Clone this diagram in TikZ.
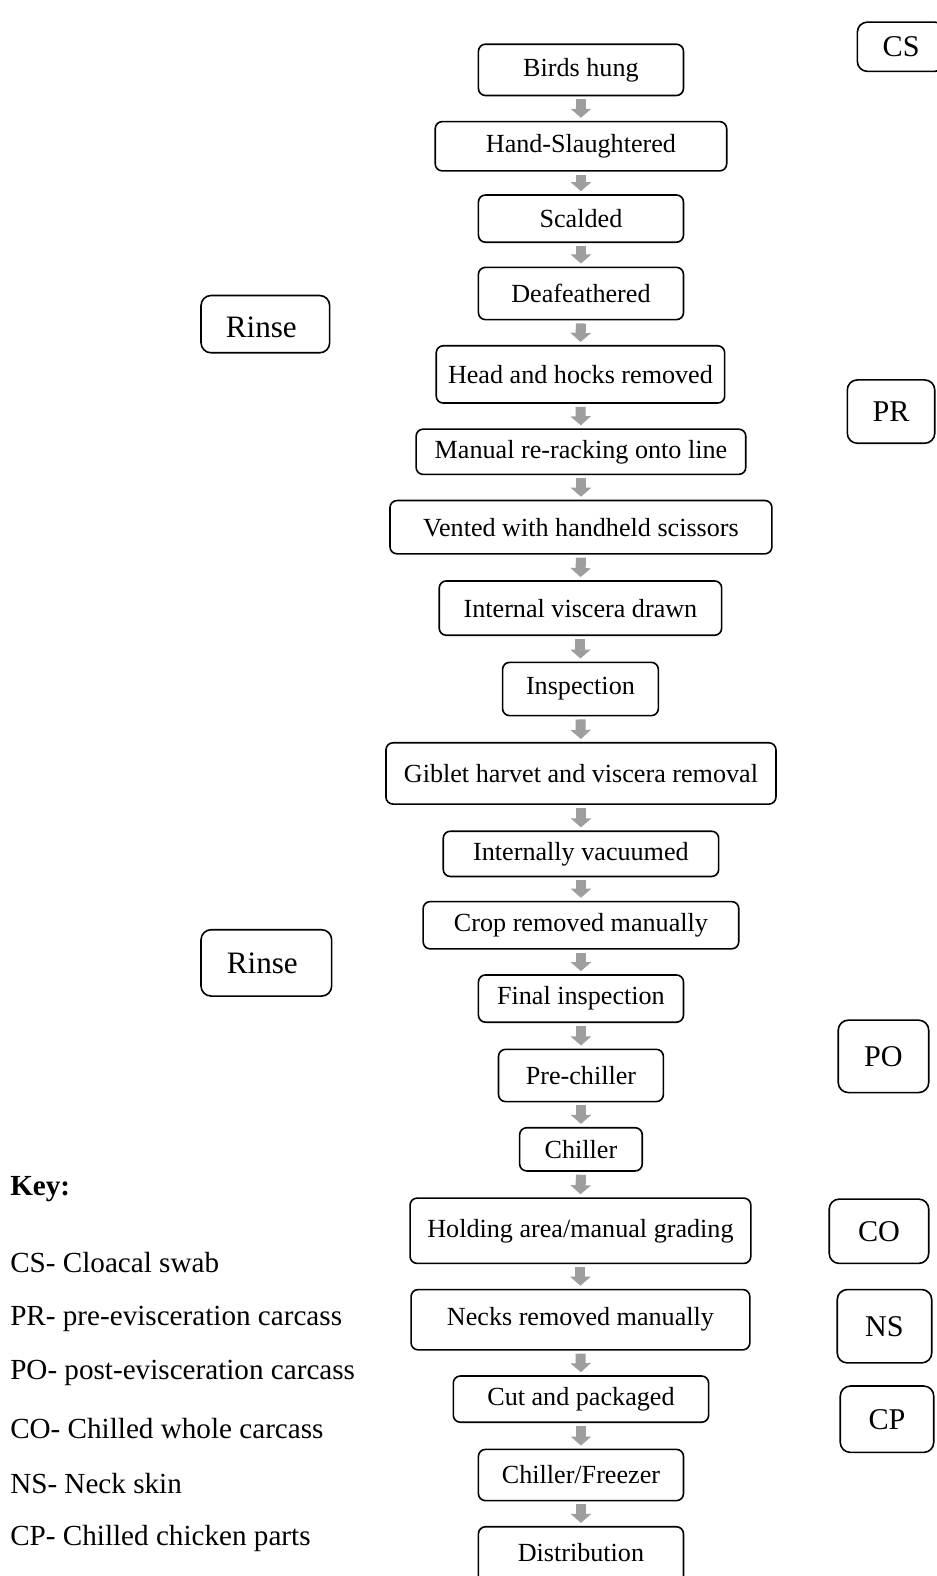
\documentclass[tikz,border=0pt]{standalone}
\usepackage{fontspec}
\setmainfont{Liberation Serif}
\usetikzlibrary{arrows.meta}
\definecolor{arrgray}{RGB}{158,158,158}
\begin{document}
\begin{tikzpicture}[x=1pt,y=-1pt,
  box/.style={draw=black,line width=1.6pt,rounded corners=7pt,inner sep=0pt,font=\fontsize{26}{30}\selectfont},
  side/.style={draw=black,line width=1.6pt,rounded corners=10pt,inner sep=0pt,font=\fontsize{30}{34}\selectfont},
  lbl/.style={inner sep=0pt},
  keytext/.style={anchor=west,inner sep=0pt,font=\fontsize{29}{33}\selectfont},
  arr/.style={draw=arrgray,line width=10pt,shorten <=3pt,shorten >=3pt,-{Triangle[width=20pt,length=9pt]}}]
\useasboundingbox (0,0) rectangle (932,1568);
\fill[white] (0,0) rectangle (932,1568);
% main flow
\node[box,minimum width=204,minimum height=51] (n1) at (578,69.5) {Birds hung};
\node[box,minimum width=290,minimum height=49] (n2) at (578,145.5) {Hand-Slaughtered};
\node[box,minimum width=204,minimum height=47] (n3) at (578,217.5) {Scalded};
\node[box,minimum width=204,minimum height=52] (n4) at (578,292) {Deafeathered};
\node[box,minimum width=287,minimum height=57] (n5) at (577.5,372.5) {Head and hocks removed};
\node[box,minimum width=328,minimum height=45] (n6) at (578,449.5) {Manual re-racking onto line};
\node[box,minimum width=380,minimum height=53] (n7) at (578,524.5) {Vented with handheld scissors};
\node[box,minimum width=281,minimum height=54] (n8) at (577.5,605) {Internal viscera drawn};
\node[box,minimum width=155,minimum height=53] (n9) at (577.5,685.5) {Inspection};
\node[box,minimum width=388,minimum height=61] (n10) at (578,769.5) {Giblet harvet and viscera removal};
\node[box,minimum width=274,minimum height=45] (n11) at (578,849.5) {Internally vacuumed};
\node[box,minimum width=314,minimum height=47] (n12) at (578,920.5) {Crop removed manually};
\node[box,minimum width=204,minimum height=47] (n13) at (578,993.5) {Final inspection};
\node[box,minimum width=164,minimum height=52] (n14) at (578,1070) {Pre-chiller};
\node[box,minimum width=122,minimum height=43] (n15) at (578,1143.5) {Chiller};
\node[box,minimum width=339,minimum height=65] (n16) at (577.5,1224.5) {Holding area/manual grading};
\node[box,minimum width=337,minimum height=60] (n17) at (577.5,1313) {Necks removed manually};
\node[box,minimum width=254,minimum height=46] (n18) at (578,1392) {Cut and packaged};
\node[box,minimum width=204,minimum height=51] (n19) at (578,1467.5) {Chiller/Freezer};
\node[box,minimum width=204,minimum height=60] (n20) at (578,1549) {};
\node[lbl,font=\fontsize{26}{30}\selectfont] (n20t) at (578,1545) {Distribution};
% arrows
\foreach \a/\b in {n1/n2,n2/n3,n3/n4,n4/n5,n5/n6,n6/n7,n7/n8,n8/n9,n9/n10,n10/n11,n11/n12,n12/n13,n13/n14,n14/n15,n15/n16,n16/n17,n17/n18,n18/n19,n19/n20}
  \draw[arr] (\a.south) -- (\b.north);
% side boxes
\node[side,minimum width=87,minimum height=49] (cs) at (896.5,46.5) {CS};
\node[side,minimum width=128,minimum height=57] (r1) at (264,322.5) {};
\node[lbl,font=\fontsize{31}{35}\selectfont] (r1t) at (260,326) {Rinse};
\node[side,minimum width=87,minimum height=63] (pr) at (886.5,409.5) {PR};
\node[side,minimum width=130,minimum height=66] (r2) at (265,958) {};
\node[lbl,font=\fontsize{31}{35}\selectfont] (r2t) at (261,958.5) {Rinse};
\node[side,minimum width=90,minimum height=72] (po) at (879,1051) {PO};
\node[side,minimum width=99,minimum height=64] (co) at (874.5,1225) {CO};
\node[side,minimum width=94,minimum height=73] (ns) at (880,1319.5) {NS};
\node[side,minimum width=93,minimum height=66] (cp) at (882.5,1412) {CP};
% key
\node[keytext,font=\fontsize{29}{33}\selectfont\bfseries] (key) at (10,1183) {Key:};
\node[keytext] (k1) at (10,1256) {CS- Cloacal swab};
\node[keytext] (k2) at (10,1312) {PR- pre-evisceration carcass};
\node[keytext] (k3) at (10,1366) {PO- post-evisceration carcass};
\node[keytext] (k4) at (10,1421) {CO- Chilled whole carcass};
\node[keytext] (k5) at (10,1476) {NS- Neck skin};
\node[keytext] (k6) at (10,1531) {CP- Chilled chicken parts};
\end{tikzpicture}
\end{document}
